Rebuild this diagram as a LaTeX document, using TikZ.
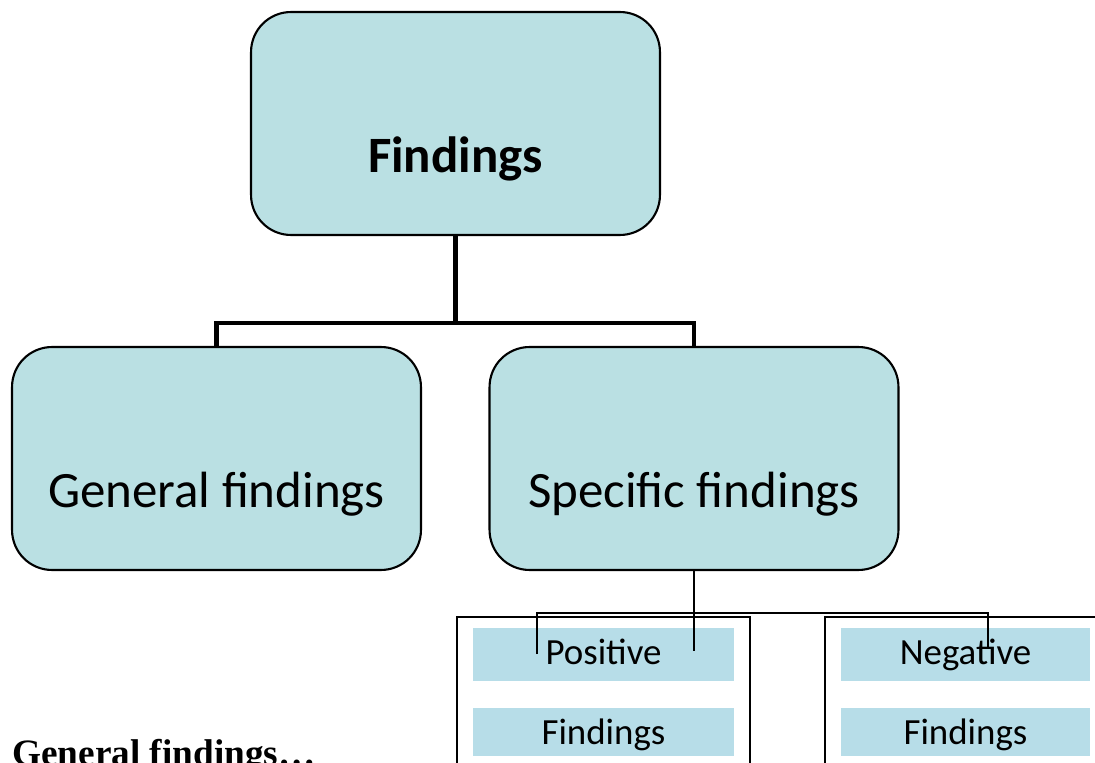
\documentclass[tikz,border=0pt]{standalone}
\usepackage{fontspec}
\setmainfont{Liberation Serif}
\newfontfamily\calibri{Carlito}
\usepackage{tikz}
\usetikzlibrary{positioning,calc}
\definecolor{box-fill}{RGB}{186,224,227}
\definecolor{bar-fill}{RGB}{183,221,232}
\newcommand{\sink}[1]{\raisebox{-0.99cm}[0pt][0pt]{#1}}
\tikzset{
    level/.style = {draw=black, line width=1.2pt, fill=box-fill, rounded corners=0.8cm,
        minimum width=8.18cm, minimum height=4.46cm, inner sep=0pt,
        font=\calibri\fontsize{29}{33}\selectfont},
    bar/.style = {fill=bar-fill, minimum width=5.22cm, inner sep=0pt,
        font=\calibri\fontsize{21}{25}\selectfont},
    upper/.style = {bar, minimum height=1.06cm, text height=0.58cm, text depth=0.2cm},
    lower/.style = {bar, minimum height=0.96cm, text height=0.68cm, text depth=0.2cm},
    fork/.style = {line width=2.8pt},
    link/.style = {line width=1pt},
    frame/.style = {line width=1.1pt}
}
\begin{document}
\begin{tikzpicture}[x=0.02cm, y=-0.02cm]
\useasboundingbox (0,0) rectangle (1095,763);
\clip (0,0) rectangle (1095,763);

%top
\node[level] (findings) at (455.5,123.5) {\sink{\bfseries Findings}};

%second row
\node[level] (general) at (216.5,458.5) {\sink{General findings}};
\node[level] (specific) at (694,458.5) {\sink{Specific findings}};

\draw[fork] (findings.south) -- ++(0,87) coordinate (split);
\draw[fork] (general.north) |- (split) -| (specific.north);

%frames
\draw[frame] (457,800) -- (457,617) -- (750,617) -- (750,800);
\draw[frame] (825,800) -- (825,617) -- (1120,617);

%bars
\node[upper] (pos) at (603.5,654.5) {Positive};
\node[lower] (posfind) at (603.5,732) {Findings};
\node[upper, minimum width=4.98cm] (neg) at (965.5,654.5) {Negative};
\node[lower, minimum width=4.98cm] (negfind) at (965.5,732) {Findings};

%thin links
\draw[link] (specific.south) -- ++(0,80);
\coordinate (posend) at (537,654);
\coordinate (negend) at (988,649);
\draw[link] (posend) |- (negend |- 0,613) -- (negend);

%caption
\node[anchor=base west, inner sep=0pt, font=\bfseries\fontsize{21.2}{25}\selectfont] (caption) at (12,765) {General findings\ldots};
\end{tikzpicture}
\end{document}
